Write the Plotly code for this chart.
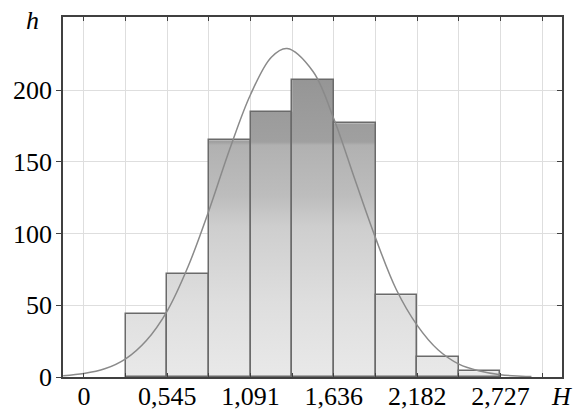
import plotly.graph_objects as go

# ---- data ----
bin_left = [0.2727, 0.5455, 0.8182, 1.0909, 1.3636, 1.6364, 1.9091, 2.1818, 2.4545]
bin_width = 0.2727
counts = [44, 72, 165, 185, 207, 177, 57, 14, 4]

curve_x = [-0.136, 0.0, 0.136, 0.273, 0.409, 0.545, 0.682, 0.818, 0.955, 1.091,
           1.227, 1.33, 1.5, 1.636, 1.773, 1.909, 2.045, 2.182, 2.318, 2.455,
           2.591, 2.727, 2.864, 2.93]
curve_y = [0.9, 2.4, 5.7, 12.7, 25.5, 46, 77, 116, 159, 197,
           223, 229, 213, 180, 138, 97, 61, 36, 19, 9,
           4.2, 1.6, 0.6, 0.3]

tick_values = [0.0, 0.5455, 1.0909, 1.6364, 2.1818, 2.7273]
tick_labels = ["0", "0,545", "1,091", "1,636", "2,182", "2,727"]
grid_values = [0.0, 0.2727, 0.5455, 0.8182, 1.0909, 1.3636, 1.6364, 1.9091,
               2.1818, 2.4545, 2.7273, 3.0]
y_ticks = [0, 50, 100, 150, 200]

x_range = [-0.137, 3.13]
y_range = [0, 251]

FONT = "Liberation Serif, Times New Roman, serif"
AXC = "#404040"
GRID = "#dedede"
FS = 26

# step outline of the histogram built from the bins
sx, sy = [], []
for e, c in zip(bin_left, counts):
    sx += [e, e, e + bin_width, e + bin_width]
    sy += [0, c, c, 0]

fig = go.Figure()

# gradient fill (base axes)
fig.add_trace(go.Scatter(
    x=sx, y=sy, mode="lines", fill="toself",
    line=dict(width=0, color="rgba(0,0,0,0)"),
    fillgradient=dict(
        type="vertical", start=0, stop=210,
        colorscale=[[0.0, "#e9e9e9"], [0.25, "#dedede"], [0.5, "#cecece"],
                    [0.6, "#bdbdbd"], [0.77, "#b1b1b1"], [0.78, "#a0a0a0"],
                    [1.0, "#959595"]]),
    hoverinfo="skip", showlegend=False,
))

# bar outlines (overlay axes)
fig.add_trace(go.Bar(
    x=[e + bin_width / 2 for e in bin_left], y=counts, width=bin_width,
    marker=dict(color="rgba(0,0,0,0)", line=dict(color="#6a6a6a", width=1.5)),
    xaxis="x2", yaxis="y2", showlegend=False,
))

# fitted normal curve
fig.add_trace(go.Scatter(
    x=curve_x, y=curve_y, mode="lines", line=dict(color="#8a8a8a", width=1.5, shape="spline"),
    xaxis="x2", yaxis="y2", showlegend=False,
))

fig.update_layout(
    width=574, height=412,
    margin=dict(l=63, r=12, t=17, b=35, autoexpand=False),
    paper_bgcolor="white", plot_bgcolor="white",
    font=dict(family=FONT, size=FS, color="black"),
    bargap=0,
    xaxis=dict(
        automargin=False,
        range=x_range, tickmode="array", tickvals=tick_values, ticktext=tick_labels,
        ticks="inside", ticklen=4, tickcolor=AXC, ticklabelstandoff=-5,
        showgrid=True, gridcolor=GRID, gridwidth=1,
        minor=dict(tickmode="array", tickvals=grid_values, showgrid=True,
                   gridcolor=GRID, ticks="inside", ticklen=4, tickcolor=AXC),
        showline=True, linecolor=AXC, linewidth=1.5, zeroline=False,
        tickfont=dict(family=FONT, size=FS, color="black"),
    ),
    yaxis=dict(
        automargin=False,
        range=y_range, tickmode="array", tickvals=y_ticks,
        ticks="outside", ticklen=5, tickcolor=AXC, ticklabelstandoff=-1,
        showgrid=True, gridcolor=GRID, gridwidth=1,
        showline=True, linecolor=AXC, linewidth=1.5, zeroline=False,
        tickfont=dict(family=FONT, size=FS, color="black"),
    ),
    xaxis2=dict(
        automargin=False,
        overlaying="x", side="top", anchor="y2", range=x_range,
        tickmode="array", tickvals=tick_values, showticklabels=False,
        ticks="inside", ticklen=4, tickcolor=AXC,
        minor=dict(tickmode="array", tickvals=grid_values, ticks="inside",
                   ticklen=4, tickcolor=AXC, showgrid=False),
        showgrid=False, showline=True, linecolor=AXC, linewidth=1.5, zeroline=False,
    ),
    yaxis2=dict(
        automargin=False,
        overlaying="y", side="right", anchor="x2", range=y_range,
        tickmode="array", tickvals=y_ticks, showticklabels=False,
        ticks="inside", ticklen=5, tickcolor=AXC,
        showgrid=False, showline=True, linecolor=AXC, linewidth=1.5, zeroline=False,
    ),
    annotations=[
        dict(text="<i>h</i>", xref="paper", yref="paper", x=-0.062, y=0.99,
             showarrow=False, xanchor="center", yanchor="middle",
             font=dict(family=FONT, size=FS, color="black")),
        dict(text="<i>H</i>", xref="paper", yref="paper", x=0.998, y=-0.053,
             showarrow=False, xanchor="center", yanchor="middle",
             font=dict(family=FONT, size=FS, color="black")),
    ],
)

fig.write_html("out.html", config={"displayModeBar": False},
               post_script="document.body.style.margin='0';")
